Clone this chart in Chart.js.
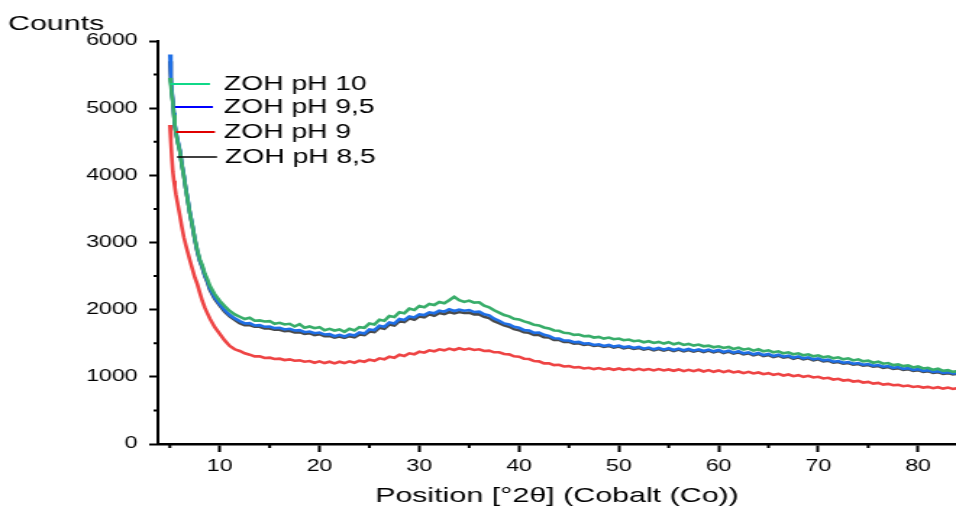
<!DOCTYPE html>
<html>
<head>
<meta charset="utf-8">
<script src="https://cdn.jsdelivr.net/npm/chart.js@4.4.1/dist/chart.umd.min.js"></script>
<style>
  html, body { margin: 0; padding: 0; background: #fff; overflow: hidden; }
  #wrap { width: 660px; height: 509px; transform: scaleX(1.4485); transform-origin: 0 0; }
</style>
</head>
<body>
<div id="wrap"><canvas id="xrd" width="660" height="509"></canvas></div>
<script>
// Position [°2θ]
const positions = [
  5.0, 5.1, 5.2, 5.3, 5.4, 5.5, 5.6, 5.8, 6.0, 6.2, 6.4, 6.6, 6.8, 7.0, 7.25, 7.5, 7.75,
  8.0, 8.25, 8.5, 8.75, 9.0, 9.5, 10, 10.5, 11, 11.5,
  12, 12.5, 13, 13.5, 14, 14.5, 15, 15.5, 16, 16.5, 17, 17.5, 18, 18.5, 19, 19.5,
  20, 20.5, 21, 21.5, 22, 22.5, 23, 23.5, 24, 24.5, 25, 25.5, 26, 26.5, 27, 27.5, 28, 28.5, 29, 29.5,
  30, 30.5, 31, 31.5, 32, 32.5, 33, 33.5, 34, 34.5, 35, 35.5, 36, 36.5, 37, 37.5, 38, 38.5, 39, 39.5,
  40, 40.5, 41, 41.5, 42, 42.5, 43, 43.5, 44, 44.5, 45, 45.5, 46, 46.5, 47, 47.5, 48, 48.5, 49, 49.5,
  50, 50.5, 51, 51.5, 52, 52.5, 53, 53.5, 54, 54.5, 55, 55.5, 56, 56.5, 57, 57.5, 58, 58.5, 59, 59.5,
  60, 60.5, 61, 61.5, 62, 62.5, 63, 63.5, 64, 64.5, 65, 65.5, 66, 66.5, 67, 67.5, 68, 68.5, 69, 69.5,
  70, 70.5, 71, 71.5, 72, 72.5, 73, 73.5, 74, 74.5, 75, 75.5, 76, 76.5, 77, 77.5, 78, 78.5, 79, 79.5,
  80, 80.5, 81, 81.5, 82, 82.5, 83, 83.5, 84
];

const ph10 = [
  5450, 5340, 5190, 5080, 4900, 4730, 4640, 4480, 4360, 4150, 3990, 3790, 3620, 3440, 3260, 3060, 2890,
  2750, 2660, 2540, 2460, 2360, 2230, 2130, 2050, 1980, 1930,
  1895, 1860, 1880, 1835, 1840, 1825, 1830, 1790, 1805, 1780, 1790, 1750, 1785, 1730, 1750, 1725,
  1740, 1695, 1715, 1690, 1705, 1670, 1715, 1690, 1740, 1730, 1795, 1780, 1850, 1835, 1905, 1890, 1960, 1945, 2015, 1995,
  2055, 2035, 2085, 2070, 2115, 2095, 2140, 2190, 2140, 2115, 2135, 2105, 2110, 2060, 2035, 1990, 1955, 1920, 1900, 1865,
  1855, 1825, 1805, 1775, 1765, 1735, 1720, 1690, 1685, 1655, 1650, 1625, 1630, 1605, 1610, 1585, 1595, 1570, 1585, 1560,
  1570, 1545, 1555, 1530, 1540, 1515, 1530, 1505, 1520, 1495, 1515, 1485, 1505, 1475, 1490, 1465, 1480, 1455, 1465, 1440,
  1455, 1430, 1445, 1415, 1435, 1405, 1420, 1390, 1410, 1380, 1395, 1365, 1380, 1350, 1365, 1335, 1350, 1320, 1335, 1305,
  1320, 1290, 1305, 1275, 1290, 1260, 1275, 1245, 1260, 1230, 1240, 1210, 1225, 1195, 1205, 1175, 1185, 1160, 1170, 1140,
  1155, 1125, 1135, 1105, 1120, 1090, 1100, 1075, 1085
];

const ph95 = [
  5800, 5470, 5260, 5110, 4930, 4760, 4650, 4510, 4380, 4170, 4010, 3800, 3640, 3450, 3270, 3050, 2880,
  2730, 2640, 2510, 2430, 2320, 2180, 2080, 1990, 1920, 1870,
  1830, 1795, 1800, 1765, 1770, 1745, 1750, 1725, 1730, 1705, 1715, 1690, 1695, 1665, 1675, 1650,
  1660, 1630, 1635, 1605, 1625, 1600, 1630, 1615, 1660, 1645, 1705, 1695, 1760, 1745, 1810, 1795, 1860, 1845, 1900, 1885,
  1930, 1920, 1960, 1945, 1985, 1970, 2005, 1980, 2000, 1985, 1995, 1965, 1970, 1930, 1915, 1865, 1835, 1795, 1780, 1745,
  1730, 1695, 1690, 1655, 1660, 1625, 1610, 1575, 1570, 1540, 1540, 1515, 1520, 1495, 1500, 1475, 1485, 1460, 1475, 1450,
  1465, 1440, 1455, 1430, 1445, 1420, 1435, 1410, 1430, 1405, 1425, 1400, 1420, 1395, 1415, 1390, 1410, 1385, 1405, 1380,
  1400, 1370, 1390, 1360, 1380, 1350, 1365, 1335, 1355, 1325, 1340, 1310, 1330, 1300, 1315, 1285, 1305, 1275, 1290, 1260,
  1275, 1245, 1255, 1225, 1235, 1210, 1220, 1195, 1205, 1180, 1190, 1165, 1175, 1150, 1160, 1135, 1145, 1120, 1130, 1105,
  1115, 1090, 1100, 1075, 1085, 1060, 1070, 1050, 1060
];

const ph9 = [
  4750, 4500, 4250, 4050, 3920, 3820, 3720, 3560, 3400, 3230, 3080, 2960, 2850, 2740, 2610, 2480, 2380,
  2250, 2130, 2030, 1950, 1870, 1740, 1640, 1540, 1460, 1410,
  1385, 1350, 1330, 1305, 1305, 1280, 1285, 1265, 1270, 1250, 1260, 1240, 1245, 1225, 1235, 1210,
  1230, 1205, 1225, 1200, 1225, 1205, 1230, 1210, 1240, 1225, 1255, 1240, 1275, 1260, 1300, 1285, 1330, 1310, 1350, 1335,
  1375, 1360, 1395, 1380, 1410, 1395, 1420, 1400, 1425, 1405, 1420, 1400, 1410, 1385, 1390, 1365, 1365, 1340, 1335, 1305,
  1300, 1270, 1265, 1235, 1230, 1200, 1200, 1175, 1180, 1155, 1160, 1140, 1145, 1125, 1135, 1115, 1130, 1110, 1125, 1105,
  1125, 1105, 1120, 1100, 1120, 1100, 1115, 1095, 1115, 1095, 1110, 1090, 1110, 1085, 1105, 1085, 1105, 1080, 1100, 1075,
  1095, 1070, 1090, 1065, 1080, 1055, 1075, 1050, 1065, 1040, 1055, 1030, 1045, 1020, 1035, 1010, 1025, 1000, 1015, 990,
  1000, 975, 985, 960, 970, 945, 955, 930, 940, 915, 925, 900, 910, 885, 895, 875, 880, 860, 870, 850,
  860, 840, 850, 830, 845, 825, 840, 820, 835
];

const ph85 = [
  5700, 5420, 5230, 5090, 4910, 4740, 4640, 4490, 4360, 4160, 3990, 3790, 3620, 3440, 3250, 3040, 2860,
  2720, 2620, 2500, 2410, 2300, 2160, 2060, 1970, 1900, 1850,
  1800, 1770, 1770, 1745, 1745, 1720, 1720, 1700, 1700, 1680, 1685, 1660, 1665, 1640, 1650, 1620,
  1635, 1605, 1610, 1585, 1600, 1580, 1605, 1590, 1630, 1620, 1675, 1665, 1730, 1715, 1780, 1765, 1830, 1815, 1870, 1850,
  1900, 1885, 1930, 1910, 1950, 1935, 1965, 1945, 1965, 1950, 1955, 1930, 1930, 1895, 1875, 1830, 1800, 1765, 1745, 1710,
  1695, 1665, 1655, 1625, 1625, 1590, 1585, 1550, 1550, 1520, 1520, 1495, 1500, 1475, 1485, 1460, 1470, 1445, 1460, 1435,
  1450, 1425, 1440, 1415, 1430, 1405, 1420, 1395, 1415, 1390, 1410, 1385, 1405, 1380, 1400, 1375, 1395, 1370, 1390, 1365,
  1385, 1355, 1375, 1345, 1365, 1335, 1350, 1320, 1340, 1310, 1325, 1295, 1315, 1285, 1300, 1270, 1290, 1260, 1275, 1245,
  1260, 1230, 1240, 1210, 1220, 1195, 1205, 1180, 1190, 1165, 1175, 1150, 1160, 1135, 1145, 1120, 1130, 1105, 1115, 1090,
  1100, 1075, 1085, 1060, 1070, 1045, 1055, 1035, 1050
];

const seriesNames = ['ZOH pH 10', 'ZOH pH 9,5', 'ZOH pH 9', 'ZOH pH 8,5'];
const xTicks = [10, 20, 30, 40, 50, 60, 70, 80];
const xMinor = [5, 15, 25, 35, 45, 55, 65, 75];
const yTicks = [0, 1000, 2000, 3000, 4000, 5000, 6000];
const yMinor = [500, 1500, 2500, 3500, 4500, 5500];

// line colours in the plot vs. the (purer) colours of the legend keys
const lineColors = ['#38ad6a', '#1f6fe6', '#ee4444', '#4a4a4a'];
const keyColors = ['#10d888', '#0000ff', '#e00000', '#000000'];

const FONT = '"Liberation Sans", Arial, sans-serif';

const toPoints = (vals) => positions.map((x, i) => ({ x: x, y: vals[i] })).filter(p => p.y !== undefined);

const overlay = {
  id: 'overlay',
  afterDraw(chart) {
    const { ctx, chartArea, scales } = chart;
    ctx.save();
    ctx.strokeStyle = '#000';
    ctx.lineWidth = 2;
    ctx.beginPath();
    yMinor.forEach(v => {
      const py = scales.y.getPixelForValue(v);
      ctx.moveTo(chartArea.left - 3, py);
      ctx.lineTo(chartArea.left, py);
    });
    xMinor.forEach(v => {
      const px = scales.x.getPixelForValue(v);
      ctx.moveTo(px, chartArea.bottom);
      ctx.lineTo(px, chartArea.bottom + 4);
    });
    ctx.stroke();

    ctx.fillStyle = '#000';
    ctx.font = '21px ' + FONT;
    ctx.textBaseline = 'alphabetic';
    ctx.fillText('Counts', 5.5, 30);

    // legend
    const rows = [84, 107, 132, 157];
    const keyX = [[117.4, 145], [120.8, 147], [121.5, 148.4], [122.2, 149.8]];
    ctx.font = '19.5px ' + FONT;
    ctx.textBaseline = 'middle';
    seriesNames.forEach((name, i) => {
      ctx.strokeStyle = keyColors[i];
      ctx.lineWidth = i === 3 ? 1.5 : 2;
      ctx.beginPath();
      ctx.moveTo(keyX[i][0], rows[i]);
      ctx.lineTo(keyX[i][1], rows[i]);
      ctx.stroke();
      ctx.fillStyle = '#000';
      ctx.fillText(name, i === 3 ? 155.3 : 154.6, rows[i] + 1);
    });
    ctx.restore();
  }
};

new Chart(document.getElementById('xrd'), {
  type: 'line',
  data: {
    datasets: [
      { label: seriesNames[0], data: toPoints(ph10), borderColor: lineColors[0] },
      { label: seriesNames[1], data: toPoints(ph95), borderColor: lineColors[1] },
      { label: seriesNames[3], data: toPoints(ph85), borderColor: lineColors[3] },
      { label: seriesNames[2], data: toPoints(ph9), borderColor: lineColors[2] },
    ].map(d => Object.assign(d, { borderWidth: 2.6, pointRadius: 0, tension: 0, fill: false })),
  },
  options: {
    responsive: false,
    animation: false,
    layout: { padding: { top: 41, left: 0, right: 0, bottom: 0 } },
    plugins: { legend: { display: false }, tooltip: { enabled: false } },
    scales: {
      x: {
        type: 'linear',
        min: 3.8,
        max: 83.8,
        afterBuildTicks: (s) => { s.ticks = xTicks.map(v => ({ value: v })); },
        afterFit: (s) => { s.height = 65; },
        grid: { drawOnChartArea: false, tickLength: 8, tickWidth: 2, tickColor: '#000' },
        border: { color: '#000', width: 2.5 },
        ticks: { color: '#000', padding: 5, font: { family: FONT, size: 16 }, callback: (v) => String(v) },
        title: {
          display: true,
          text: 'Position [°2θ] (Cobalt (Co))',
          color: '#000',
          font: { family: FONT, size: 21 },
          padding: { top: 0, bottom: 0 },
        },
      },
      y: {
        min: 0,
        max: 6000,
        afterBuildTicks: (s) => { s.ticks = yTicks.map(v => ({ value: v })); },
        afterFit: (s) => { s.width = 109; },
        grid: { drawOnChartArea: false, tickLength: 6, tickWidth: 2, tickColor: '#000' },
        border: { color: '#000', width: 2 },
        ticks: { color: '#000', padding: 8, font: { family: FONT, size: 16 }, callback: (v) => String(v) },
      },
    },
  },
  plugins: [overlay],
});
</script>
</body>
</html>
